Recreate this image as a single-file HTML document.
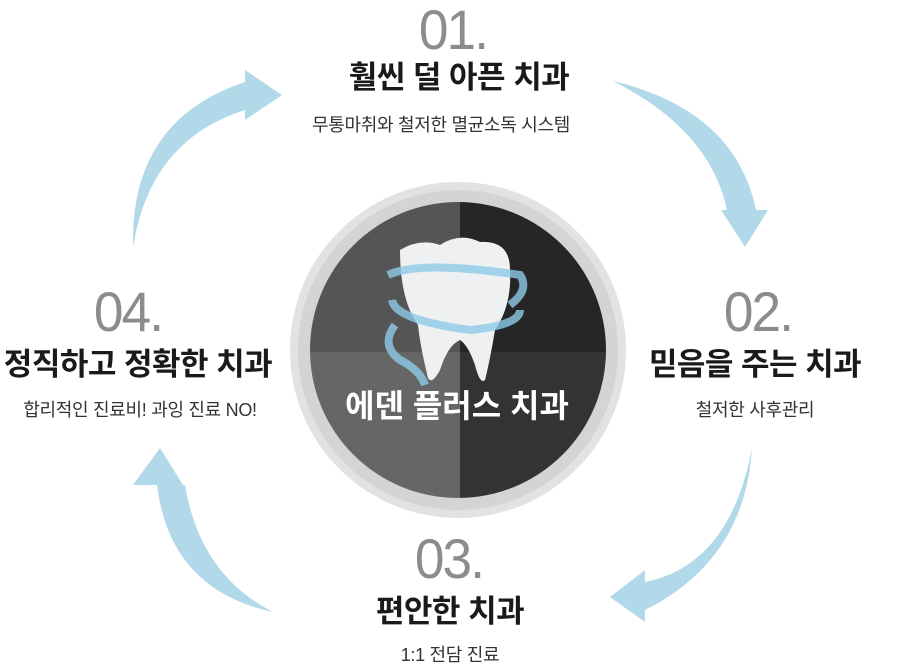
<!DOCTYPE html>
<html><head><meta charset="utf-8"><style>
body{margin:0;width:917px;height:663px;background:#fff;position:relative;overflow:hidden;font-family:"Liberation Sans","Noto Sans CJK KR",sans-serif}
.n{position:absolute;font-family:"Liberation Sans Narrow","Liberation Sans",sans-serif;font-size:56px;color:#8c8c8c;line-height:1;letter-spacing:-2px;width:200px;text-align:center;transform:scaleX(0.95)}
.t{position:absolute;font-size:31px;font-weight:bold;color:#1a1a1a;width:340px;text-align:center;line-height:1;letter-spacing:-0.5px}
.s{position:absolute;font-size:18px;color:#333;width:340px;text-align:center;line-height:1;letter-spacing:-0.3px}
</style></head><body>
<svg width="917" height="663" style="position:absolute;left:0;top:0">
<g fill="#b1d9ea">
<path d="M613,81 Q735,110 756,210 L727,210 Q710,130 613,81Z"/><path d="M721,210 L768,210 L745,247Z"/>
<path d="M752,448 Q730,565 645,582 L645,610 Q745,560 752,448Z"/><path d="M645,570 L645,622 L610,597Z"/>
<path d="M273,612 Q170,590 157,485 L185,485 Q200,575 273,612Z"/><path d="M133,485 L183,485 L160,448Z"/>
<path d="M133,247 Q130,120 245,82 L245,110 Q150,140 133,247Z"/><path d="M245,70 L245,120 L282,95Z"/>
</g>
<circle cx="458" cy="350" r="168" fill="#e2e2e2"/>
<circle cx="458" cy="350" r="160" fill="#d4d4d4"/>
<clipPath id="c"><circle cx="458" cy="350" r="148"/></clipPath>
<g clip-path="url(#c)">
<rect x="300" y="190" width="160" height="162" fill="#555"/>
<rect x="460" y="190" width="160" height="162" fill="#262626"/>
<rect x="300" y="352" width="160" height="160" fill="#666"/>
<rect x="460" y="352" width="160" height="160" fill="#333"/>
</g>
<path d="M400,250 Q420,238 440,245 Q460,232 480,242 Q510,240 510,270 Q512,305 495,330 Q490,360 485,380 Q480,385 475,365 Q468,345 460,340 Q448,345 440,370 Q432,385 428,378 Q420,345 418,325 Q400,300 400,250Z" fill="#eef0f2"/>
<g fill="none" stroke="#8ecbe8" stroke-width="8" opacity="0.8">
<path d="M388,275 Q420,260 520,275 Q530,290 510,305"/>
<path d="M392,300 Q395,320 470,330 Q520,325 520,310"/>
<path d="M395,325 Q380,345 400,360 Q420,370 425,385"/>
</g>
<text x="457" y="417" text-anchor="middle" font-family="Liberation Sans,Noto Sans CJK KR,sans-serif" font-weight="bold" font-size="32" fill="#fff">에덴 플러스 치과</text>
</svg>
<div class="n" style="left:353px;top:2px">01.</div>
<div class="t" style="left:289px;top:62px">훨씬 덜 아픈 치과</div>
<div class="s" style="left:271px;top:116px">무통마취와 철저한 멸균소독 시스템</div>
<div class="n" style="left:658px;top:284px">02.</div>
<div class="t" style="left:585px;top:349px">믿음을 주는 치과</div>
<div class="s" style="left:585px;top:401px">철저한 사후관리</div>
<div class="n" style="left:349px;top:531px">03.</div>
<div class="t" style="left:280px;top:596px">편안한 치과</div>
<div class="s" style="left:280px;top:646px">1:1 전담 진료</div>
<div class="n" style="left:28px;top:284px">04.</div>
<div class="t" style="left:-32px;top:349px">정직하고 정확한 치과</div>
<div class="s" style="left:-30px;top:401px">합리적인 진료비! 과잉 진료 NO!</div>
</body></html>
